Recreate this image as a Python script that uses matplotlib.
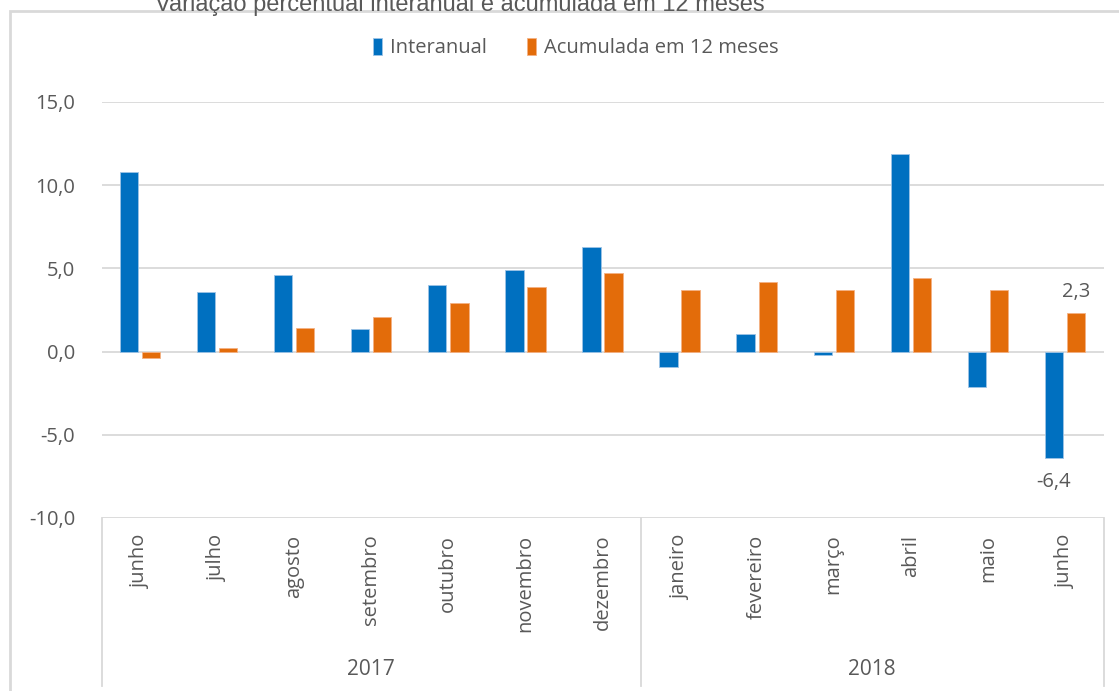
import numpy as np
import matplotlib
matplotlib.use('Agg')
import matplotlib.pyplot as plt
from matplotlib.lines import Line2D
from matplotlib.patches import Rectangle

# data
meses = ['junho', 'julho', 'agosto', 'setembro', 'outubro', 'novembro', 'dezembro',
         'janeiro', 'fevereiro', 'março', 'abril', 'maio', 'junho']
anos = ['2017', '2018']
meses_por_ano = [7, 6]
interanual = [10.8, 3.6, 4.6, 1.35, 4.0, 4.9, 6.3, -0.9, 1.05, -0.2, 11.9, -2.1, -6.4]
acumulada = [-0.4, 0.2, 1.4, 2.1, 2.9, 3.9, 4.7, 3.7, 4.2, 3.7, 4.4, 3.7, 2.3]

azul = '#0070C0'
laranja = '#E36C0A'
cinza_txt = '#595959'
cinza_linha = '#D9D9D9'

plt.rcParams['font.family'] = ['Open Sans', 'DejaVu Sans']

fig = plt.figure(figsize=(11.19, 6.91), dpi=100)
ax = fig.add_axes([101.5 / 1119, 173 / 691, 1002 / 1119, 416 / 691])

x = np.arange(len(meses))
w = 0.237
off = 0.143
ax.bar(x - off, interanual, w, color=azul, edgecolor='#9DC3E6', linewidth=0.6,
       label='Interanual', zorder=3)
ax.bar(x + off, acumulada, w, color=laranja, edgecolor='#F4B183', linewidth=0.6,
       label='Acumulada em 12 meses', zorder=3)

ax.set_xlim(-0.5, len(meses) - 0.5)
ax.set_ylim(-10, 15)
ax.set_yticks(np.arange(-10, 16, 5))
ax.set_yticklabels([f'{v:.1f}'.replace('.', ',') for v in np.arange(-10, 16, 5)],
                   fontsize=14.5, color=cinza_txt)
ax.yaxis.grid(True, color=cinza_linha, linewidth=1.3, zorder=0)
ax.tick_params(axis='y', length=0, pad=19)
ax.set_xticks(x)
ax.set_xticklabels(meses, rotation=90, fontsize=14.5, color=cinza_txt, va='top')
ax.tick_params(axis='x', length=0, pad=12)
for s in ax.spines.values():
    s.set_visible(False)

# last point labels
ax.annotate(f'{acumulada[-1]:.1f}'.replace('.', ','), (x[-1] + off, acumulada[-1]),
            xytext=(0, 8), textcoords='offset points', ha='center', va='bottom',
            fontsize=14.5, color=cinza_txt)
ax.annotate(f'{interanual[-1]:.1f}'.replace('.', ','), (x[-1] - off, interanual[-1]),
            xytext=(0, -10), textcoords='offset points', ha='center', va='top',
            fontsize=14.5, color=cinza_txt)

# year groups under the month labels
trans = ax.get_xaxis_transform()
bordas = np.concatenate([[0], np.cumsum(meses_por_ano)]) - 0.5
for b in bordas:
    ax.add_line(Line2D([b, b], [0, -0.405], transform=trans, color=cinza_linha,
                       linewidth=1.3, clip_on=False))
for i, ano in enumerate(anos):
    ax.text((bordas[i] + bordas[i + 1]) / 2, -0.365, ano, transform=trans,
            ha='center', va='center', fontsize=15, color=cinza_txt)

leg = ax.legend(loc='center', bbox_to_anchor=(576 / 1119, 1 - 48 / 691),
                bbox_transform=fig.transFigure, ncol=2, frameon=False, fontsize=14.5,
                handlelength=0.45, handleheight=0.9, columnspacing=2.0,
                handletextpad=0.4)
for t in leg.get_texts():
    t.set_color(cinza_txt)

# outer chart border and clipped title
fig.patches.append(Rectangle((10 / 1119, -0.01), 1.02, 1 - 11 / 691 + 0.01,
                             transform=fig.transFigure, fill=False,
                             edgecolor=cinza_linha, linewidth=2))
fig.text(460 / 1119, 1 - 5 / 691, 'Variação percentual interanual e acumulada em 12 meses',
         ha='center', va='center', fontsize=17, color=cinza_txt,
         family='Liberation Sans')

fig.savefig('out.png', dpi=100)
